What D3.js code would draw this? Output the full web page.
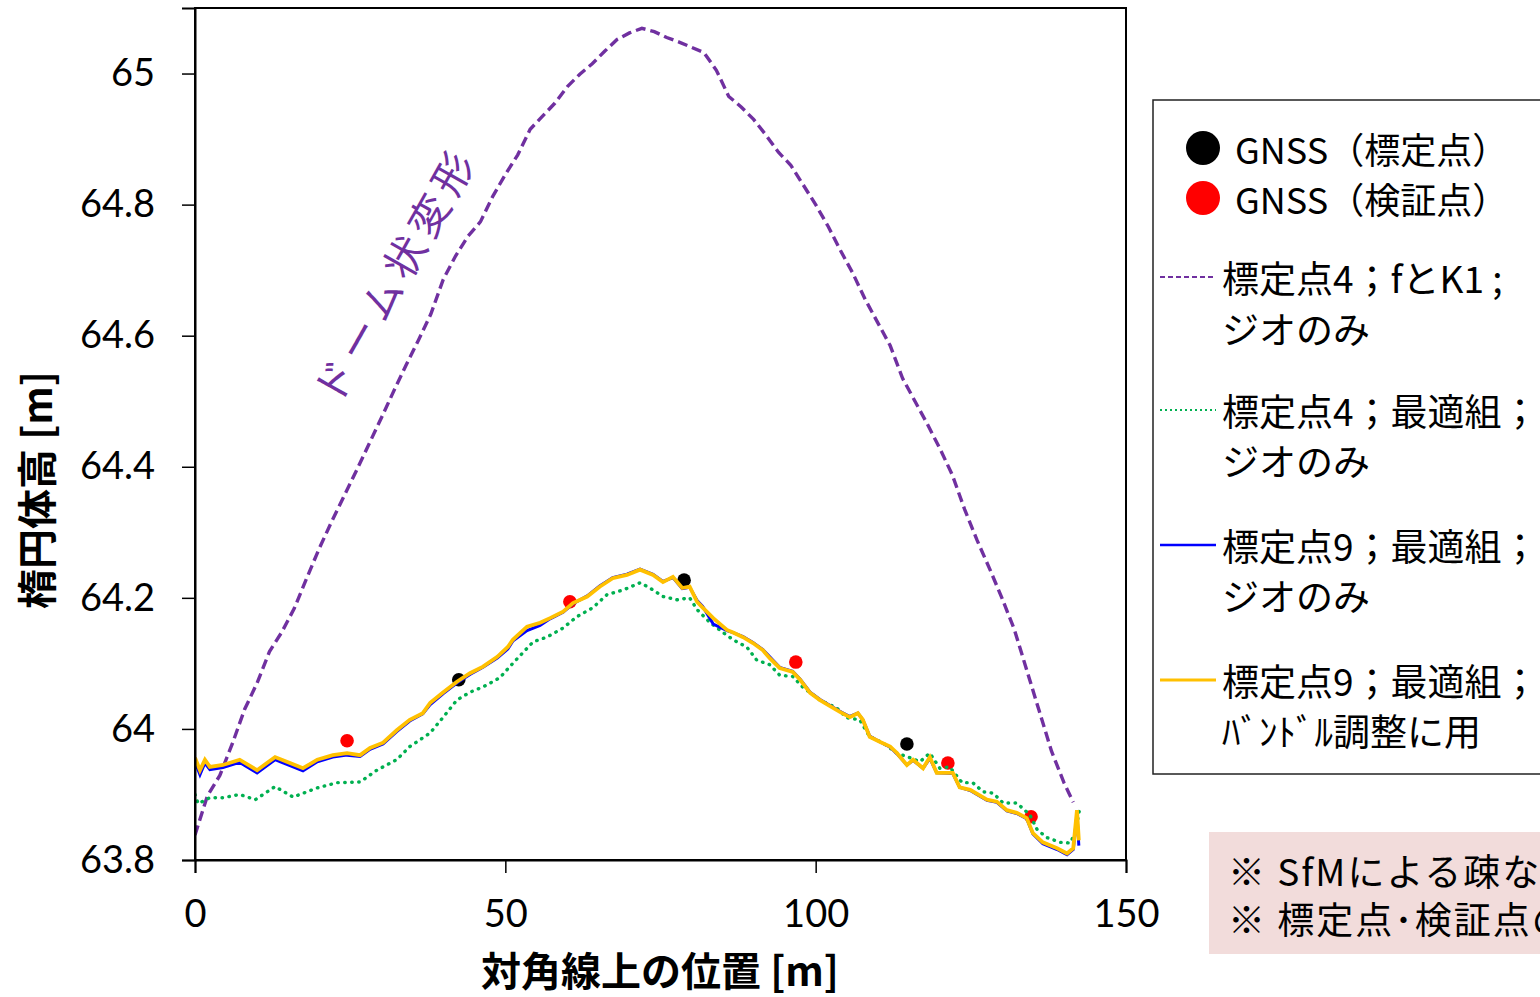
<!DOCTYPE html>
<html><head><meta charset="utf-8">
<script src="https://cdn.jsdelivr.net/npm/d3@7"></script>
<style>html,body{margin:0;padding:0;background:#fff;overflow:hidden;}svg{display:block;}</style>
</head><body><svg id="c" width="1540" height="997"></svg>
<script>
// ---- data ----
const xTicks = [0, 50, 100, 150];
const xTickLabels = ["0", "50", "100", "150"];
const yTicks = [63.8, 64.0, 64.2, 64.4, 64.6, 64.8, 65.0];
const yTickLabels = ["63.8", "64", "64.2", "64.4", "64.6", "64.8", "65"];

const seriesNames = ["GNSS（標定点）", "GNSS（検証点）", "標定点4；fとK1 ;", "標定点4；最適組；", "標定点9；最適組；", "標定点9；最適組；"];
const seriesSub = ["", "", "ジオのみ", "ジオのみ", "ジオのみ", "ﾊﾞﾝﾄﾞﾙ調整に用"];

const gcpX = [42.5, 78.8, 114.7];
const gcpY = [64.075, 64.227, 63.977];
const chkX = [24.5, 60.4, 96.8, 121.3, 134.7];
const chkY = [63.982, 64.194, 64.102, 63.948, 63.866];

const domeX = [0,2,4,6,8,10,12,14,16,18,20,22,24,26,28,30,32,34,36,38,40,42,44,46,48,50,52,54,56,58,60,62,64,66,68,70,72,74,76,78,80,82,84,86,88,90,92,94,96,98,100,102,104,106,108,110,112,114,116,118,120,122,124,126,128,130,132,134,136,138,140,141.5];
const domeY = [63.838,63.898,63.929,63.977,64.030,64.070,64.118,64.148,64.184,64.230,64.275,64.316,64.355,64.394,64.434,64.474,64.515,64.555,64.593,64.633,64.686,64.722,64.752,64.774,64.813,64.846,64.876,64.915,64.935,64.955,64.980,64.999,65.015,65.034,65.052,65.062,65.069,65.064,65.055,65.048,65.040,65.032,65.005,64.965,64.949,64.930,64.906,64.880,64.860,64.830,64.800,64.767,64.730,64.695,64.655,64.620,64.585,64.535,64.500,64.465,64.428,64.388,64.335,64.288,64.245,64.200,64.152,64.090,64.028,63.966,63.918,63.888];

const g4X = [0.0,0.5,2.4,4.5,7.2,9.7,12.9,15.8,19.7,22.9,26.6,29.3,32.5,34.6,37.9,40.0,42.2,44.3,46.4,49.1,51.2,54.5,56.7,59.3,61.5,64.1,66.4,69.0,71.7,73.3,75.4,77.7,79.7,80.9,83.0,85.1,86.7,88.9,90.5,92.6,94.2,96.3,97.9,100.7,103.4,105.0,107.1,108.7,110.8,113.1,115.2,116.8,118.4,120.0,121.6,123.6,125.3,127.0,128.6,130.2,132.4,134.5,135.7,137.3,139.4,141.0,141.8,142.6];
const g4Y = [63.900,63.886,63.895,63.895,63.900,63.892,63.912,63.896,63.910,63.918,63.919,63.937,63.953,63.973,63.994,64.018,64.044,64.056,64.064,64.078,64.100,64.133,64.140,64.154,64.171,64.185,64.205,64.212,64.223,64.215,64.202,64.197,64.200,64.182,64.162,64.147,64.136,64.125,64.105,64.098,64.082,64.080,64.064,64.044,64.032,64.017,64.014,63.988,63.979,63.963,63.956,63.950,63.963,63.940,63.942,63.918,63.918,63.904,63.902,63.887,63.887,63.869,63.846,63.834,63.827,63.826,63.841,63.881];

const g9X = [0.0,0.8,1.6,2.4,4.5,7.2,10.0,12.9,15.3,17.4,19.7,22.2,24.5,26.6,28.2,30.3,32.5,34.6,36.7,37.9,40.0,42.2,44.3,46.4,48.7,50.4,51.2,53.5,55.6,57.2,59.3,60.9,63.2,65.2,67.3,69.6,71.7,73.8,75.4,77.0,78.5,79.7,80.9,81.8,83.5,85.7,86.7,88.3,89.9,91.5,92.6,94.2,96.3,97.5,99.1,100.7,102.8,103.9,105.5,106.8,107.6,108.7,110.4,112.0,113.1,114.7,115.7,117.3,118.4,119.5,122.1,123.2,124.9,127.6,129.2,130.8,132.4,134.0,135.0,136.6,138.9,140.5,141.5,142.1,142.4];
const geoY = [63.950,63.930,63.948,63.938,63.941,63.949,63.933,63.953,63.944,63.936,63.950,63.957,63.960,63.958,63.969,63.977,63.996,64.012,64.023,64.037,64.054,64.070,64.083,64.094,64.108,64.122,64.134,64.150,64.158,64.168,64.178,64.191,64.203,64.218,64.231,64.236,64.244,64.236,64.225,64.231,64.214,64.216,64.196,64.187,64.160,64.150,64.147,64.141,64.132,64.121,64.110,64.094,64.088,64.076,64.056,64.045,64.033,64.027,64.019,64.024,64.014,63.989,63.980,63.972,63.962,63.945,63.952,63.940,63.955,63.933,63.932,63.911,63.906,63.891,63.888,63.875,63.871,63.863,63.840,63.825,63.816,63.808,63.816,63.870,63.822];
const bundleY = [63.956,63.937,63.953,63.942,63.945,63.953,63.937,63.957,63.948,63.940,63.953,63.960,63.963,63.960,63.971,63.979,63.998,64.014,64.024,64.040,64.056,64.072,64.085,64.095,64.110,64.125,64.136,64.156,64.162,64.169,64.179,64.192,64.202,64.217,64.230,64.235,64.243,64.235,64.224,64.232,64.215,64.217,64.194,64.185,64.169,64.151,64.147,64.140,64.131,64.120,64.108,64.093,64.087,64.075,64.055,64.044,64.032,64.026,64.018,64.024,64.014,63.988,63.980,63.973,63.963,63.945,63.953,63.940,63.957,63.933,63.933,63.911,63.907,63.892,63.889,63.876,63.872,63.864,63.841,63.827,63.818,63.810,63.818,63.876,63.830];

const noteLines = ["※ SfMによる疎な点群", "※ 標定点･検証点の"];
const annotation = "ドーム状変形";

// ---- chart ----
const svg = d3.select("#c");
const L = 195, R = 1126, T = 8, B = 860;
const x = d3.scaleLinear().domain([0, 150]).range([L, R]);
const y = d3.scaleLinear().domain([63.8, 65.1]).range([B, T]);
const jp = "'Noto Sans CJK JP', 'Noto Sans', sans-serif";
const num = "Lato, 'Open Sans', sans-serif";

svg.append("defs").append("clipPath").attr("id", "clip")
  .append("rect").attr("x", L).attr("y", T).attr("width", R - L).attr("height", B - T);

const plot = svg.append("g").attr("clip-path", "url(#clip)");

const zip = (xs, ys) => xs.map((v, i) => [v, ys[i]]);
const line = d3.line().x(d => x(d[0])).y(d => y(d[1]));

// points (drawn first, underneath lines)
plot.selectAll(".gcp").data(zip(gcpX, gcpY)).join("circle")
  .attr("cx", d => x(d[0])).attr("cy", d => y(d[1])).attr("r", 6.8).attr("fill", "#000");
plot.selectAll(".chk").data(zip(chkX, chkY)).join("circle")
  .attr("cx", d => x(d[0])).attr("cy", d => y(d[1])).attr("r", 6.8).attr("fill", "#FF0000");

plot.append("path").datum(zip(domeX, domeY)).attr("d", line)
  .attr("fill", "none").attr("stroke", "#7030A0").attr("stroke-width", 3.4).attr("stroke-dasharray", "10,5");
plot.append("path").datum(zip(g4X, g4Y)).attr("d", line)
  .attr("fill", "none").attr("stroke", "#00B050").attr("stroke-width", 3.4)
  .attr("stroke-linecap", "round").attr("stroke-dasharray", "0.5,6.5");
plot.append("path").datum(zip(g9X, geoY)).attr("d", line)
  .attr("fill", "none").attr("stroke", "#0000FF").attr("stroke-width", 3);
plot.append("path").datum(zip(g9X, bundleY)).attr("d", line)
  .attr("fill", "none").attr("stroke", "#FFC000").attr("stroke-width", 3.8);

// frame
svg.append("rect").attr("x", L).attr("y", T).attr("width", R - L).attr("height", B - T)
  .attr("fill", "none").attr("stroke", "#000").attr("stroke-width", 2);

// axes
const yAxis = svg.append("g").attr("transform", `translate(${L},0)`)
  .call(d3.axisLeft(y).tickValues(yTicks).tickSize(13).tickPadding(27)
    .tickFormat((d, i) => yTickLabels[i]));
const xAxis = svg.append("g").attr("transform", `translate(0,${B})`)
  .call(d3.axisBottom(x).tickValues(xTicks).tickSize(13).tickPadding(27)
    .tickFormat((d, i) => xTickLabels[i]));
[yAxis, xAxis].forEach(a => {
  a.select(".domain").attr("stroke", "#000").attr("stroke-width", 2);
  a.selectAll(".tick line").attr("stroke", "#000").attr("stroke-width", 1.5);
  a.selectAll(".tick text").attr("font-family", num).attr("font-size", 38).attr("fill", "#000");
});

// axis titles
svg.append("text").attr("x", 660).attr("y", 969).attr("text-anchor", "middle")
  .attr("dominant-baseline", "central").attr("font-family", jp).attr("font-weight", "bold")
  .attr("font-size", 40).text("対角線上の位置 [m]");
svg.append("text").attr("transform", "translate(35,490) rotate(-90)").attr("text-anchor", "middle")
  .attr("dominant-baseline", "central").attr("font-family", jp).attr("font-weight", "bold")
  .attr("font-size", 40).text("楕円体高 [m]");

// annotation
svg.append("text").attr("transform", "translate(393,273) rotate(-60.5)").attr("text-anchor", "middle")
  .attr("dominant-baseline", "central").attr("font-family", jp).attr("font-size", 41)
  .attr("letter-spacing", 7).attr("fill", "#7030A0").text(annotation);

// legend
const lg = svg.append("g");
lg.append("rect").attr("x", 1153).attr("y", 100).attr("width", 420).attr("height", 674)
  .attr("fill", "#fff").attr("stroke", "#222").attr("stroke-width", 1.5);
const rowY = [148, 198, 277, 410, 545, 680];
const subY = [null, null, 328, 460, 595, 730];
const styles = [
  {type: "dot", color: "#000"},
  {type: "dot", color: "#FF0000"},
  {type: "line", color: "#7030A0", dash: "5,3", w: 2.2},
  {type: "line", color: "#00B050", dash: "2,3", w: 2.2},
  {type: "line", color: "#0000FF", dash: null, w: 2.5},
  {type: "line", color: "#FFC000", dash: null, w: 3}
];
styles.forEach((s, i) => {
  if (s.type === "dot") {
    lg.append("circle").attr("cx", 1203).attr("cy", rowY[i]).attr("r", 17).attr("fill", s.color);
    lg.append("text").attr("x", 1235).attr("y", rowY[i]).attr("dominant-baseline", "central")
      .attr("font-family", jp).attr("font-size", 36).text(seriesNames[i]);
  } else {
    lg.append("line").attr("x1", 1160).attr("x2", 1216).attr("y1", rowY[i]).attr("y2", rowY[i])
      .attr("stroke", s.color).attr("stroke-width", s.w).attr("stroke-dasharray", s.dash);
    lg.append("text").attr("x", 1222).attr("y", rowY[i]).attr("dominant-baseline", "central")
      .attr("font-family", jp).attr("font-size", 37).text(seriesNames[i]);
    lg.append("text").attr("x", 1222).attr("y", subY[i]).attr("dominant-baseline", "central")
      .attr("font-family", jp).attr("font-size", 37).text(seriesSub[i]);
  }
});

// note box
svg.append("rect").attr("x", 1209).attr("y", 832).attr("width", 400).attr("height", 122).attr("fill", "#F2DCDB");
noteLines.forEach((t, i) => {
  svg.append("text").attr("x", 1228).attr("y", 870 + i * 48).attr("dominant-baseline", "central")
    .attr("font-family", jp).attr("font-size", 37).attr("letter-spacing", 2).text(t);
});
</script></body></html>
